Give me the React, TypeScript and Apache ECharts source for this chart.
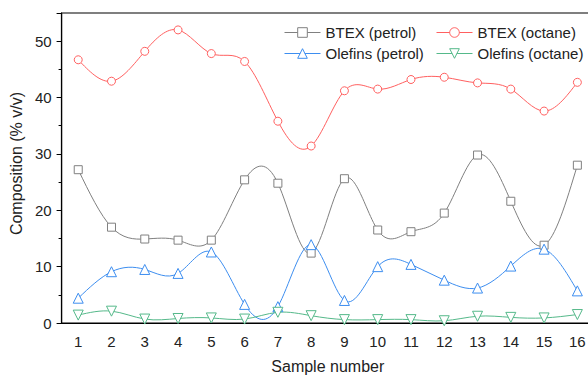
import React, { useEffect, useRef } from "react";
import * as echarts from "echarts";

const categories = ["1", "2", "3", "4", "5", "6", "7", "8", "9", "10", "11", "12", "13", "14", "15", "16"];
const btexPetrol = [27.2, 17.0, 14.9, 14.7, 14.7, 25.4, 24.8, 12.4, 25.6, 16.5, 16.2, 19.5, 29.8, 21.6, 13.8, 28.0];
const btexOctane = [46.7, 42.9, 48.2, 52.0, 47.8, 46.4, 35.8, 31.4, 41.2, 41.5, 43.2, 43.6, 42.6, 41.5, 37.6, 42.7];
const olefinsPetrol = [4.4, 9.1, 9.5, 8.8, 12.6, 3.3, 2.9, 13.9, 4.0, 10.0, 10.4, 7.6, 6.2, 10.1, 13.1, 5.7];
const olefinsOctane = [1.4, 2.1, 0.7, 0.8, 0.9, 0.7, 1.9, 1.3, 0.6, 0.6, 0.6, 0.4, 1.2, 1.0, 0.9, 1.5];

const seriesNames = ["BTEX (petrol)", "BTEX (octane)", "Olefins (petrol)", "Olefins (octane)"];
const seriesColors = ["#808080", "#ff6060", "#3d8ef0", "#55b98a"];
const seriesSymbols = ["rect", "circle", "triangle", "triangle"];
const seriesRotate = [0, 0, 0, 180];
const seriesSizes = [8, 8, 10, 10];
const seriesData = [btexPetrol, btexOctane, olefinsPetrol, olefinsOctane];

const FONT = "Liberation Sans, Arial, sans-serif";
const TEXT = "#222";

function splinePath(pts: number[][]): string {
  const n = pts.length;
  const x = pts.map((p) => p[0]);
  const y = pts.map((p) => p[1]);
  const h: number[] = [];
  for (let i = 0; i < n - 1; i++) h.push(x[i + 1] - x[i]);
  const M = new Array(n).fill(0);
  if (n > 2) {
    const a: number[] = [], b: number[] = [], c: number[] = [], d: number[] = [];
    for (let i = 1; i < n - 1; i++) {
      a.push(h[i - 1]);
      b.push(2 * (h[i - 1] + h[i]));
      c.push(h[i]);
      d.push(6 * ((y[i + 1] - y[i]) / h[i] - (y[i] - y[i - 1]) / h[i - 1]));
    }
    const m = b.length;
    for (let i = 1; i < m; i++) {
      const w = a[i] / b[i - 1];
      b[i] -= w * c[i - 1];
      d[i] -= w * d[i - 1];
    }
    const sol = new Array(m).fill(0);
    sol[m - 1] = d[m - 1] / b[m - 1];
    for (let i = m - 2; i >= 0; i--) sol[i] = (d[i] - c[i] * sol[i + 1]) / b[i];
    for (let i = 0; i < m; i++) M[i + 1] = sol[i];
  }
  let s = `M${x[0]},${y[0]}`;
  for (let i = 0; i < n - 1; i++) {
    const hi = h[i];
    const slope = (y[i + 1] - y[i]) / hi;
    const d0 = slope - (hi * (2 * M[i] + M[i + 1])) / 6;
    const d1 = slope + (hi * (M[i] + 2 * M[i + 1])) / 6;
    const c1x = x[i] + hi / 3, c1y = y[i] + (hi / 3) * d0;
    const c2x = x[i + 1] - hi / 3, c2y = y[i + 1] - (hi / 3) * d1;
    s += ` C${c1x},${c1y} ${c2x},${c2y} ${x[i + 1]},${y[i + 1]}`;
  }
  return s;
}

export default function App() {
  const ref = useRef<HTMLDivElement>(null);
  useEffect(() => {
    if (!ref.current) return;
    const chart = echarts.init(ref.current, null, { renderer: "svg" });

    const curveSeries = seriesData.map((vals, k) => ({
      name: seriesNames[k] + " curve",
      type: "custom",
      z: 1,
      silent: true,
      clip: false,
      data: [[0, 0]],
      encode: { x: 0, y: 1 },
      renderItem: (_params: any, api: any) => {
        const pts = vals.map((v, i) => api.coord([i, v]));
        return {
          type: "path",
          shape: { pathData: splinePath(pts) },
          style: { stroke: seriesColors[k], fill: "none", lineWidth: 1 },
        };
      },
    }));

    const markerSeries = seriesData.map((vals, k) => ({
      name: seriesNames[k],
      type: "line",
      z: 3,
      data: vals,
      symbol: seriesSymbols[k],
      symbolRotate: seriesRotate[k],
      symbolSize: seriesSizes[k],
      showAllSymbol: true,
      itemStyle: { color: "#fff", borderColor: seriesColors[k], borderWidth: 1 },
      lineStyle: { color: seriesColors[k], width: 1, opacity: 0 },
      color: seriesColors[k],
    }));

    const legendItem = (k: number) => ({
      name: seriesNames[k],
      itemStyle: { color: "#fff", borderColor: seriesColors[k], borderWidth: 1 },
      lineStyle: { color: seriesColors[k], width: 1, opacity: 1 },
    });

    const legendCommon = {
      orient: "vertical",
      itemWidth: 36,
      itemHeight: 12,
      itemGap: 6,
      textStyle: { fontFamily: FONT, fontSize: 15, color: TEXT, lineHeight: 14 },
      padding: 0,
    };

    chart.setOption({
      animation: false,
      backgroundColor: "#fff",
      grid: { left: 57, right: 6, top: 13, bottom: 50, show: true, borderColor: "#000", borderWidth: 1.2 },
      legend: [
        { ...legendCommon, left: 284, top: 25, data: [legendItem(0), legendItem(2)] },
        { ...legendCommon, left: 436, top: 25, data: [legendItem(1), legendItem(3)] },
      ],
      xAxis: [
        {
          type: "category",
          data: categories,
          boundaryGap: true,
          name: "Sample number",
          nameLocation: "middle",
          nameGap: 35,
          nameTextStyle: { fontFamily: FONT, fontSize: 16, color: TEXT },
          axisLine: { lineStyle: { color: "#000", width: 1.2 } },
          axisTick: { alignWithLabel: true, length: 5, lineStyle: { color: "#000" } },
          axisLabel: { fontFamily: FONT, fontSize: 15, color: TEXT, margin: 11 },
          splitLine: { show: false },
        },
        {
          type: "category",
          data: categories,
          boundaryGap: true,
          position: "bottom",
          axisLine: { show: false },
          axisTick: { alignWithLabel: false, length: 3, lineStyle: { color: "#000" } },
          axisLabel: { show: false },
          splitLine: { show: false },
        },
      ],
      yAxis: {
        type: "value",
        min: 0,
        max: 55,
        interval: 10,
        name: "Composition (% v/v)",
        nameLocation: "middle",
        nameGap: 33,
        nameTextStyle: { fontFamily: FONT, fontSize: 16, color: TEXT, padding: [0, 0, 0, 9] },
        axisLine: { show: true, lineStyle: { color: "#000", width: 1.2 } },
        axisTick: { show: true, length: 5, lineStyle: { color: "#000" } },
        minorTick: { show: true, splitNumber: 2, length: 3, lineStyle: { color: "#000" } },
        axisLabel: { fontFamily: FONT, fontSize: 15, color: TEXT, margin: 10, showMaxLabel: false },
        splitLine: { show: false },
      },
      series: [...curveSeries, ...markerSeries],
    });
    return () => chart.dispose();
  }, []);
  return (
    <div style={{ position: "absolute", left: 0, top: 0, width: 588, height: 379, overflow: "hidden" }}>
      <div ref={ref} style={{ position: "absolute", left: 0, top: 0, width: 600, height: 379 }} />
    </div>
  );
}
